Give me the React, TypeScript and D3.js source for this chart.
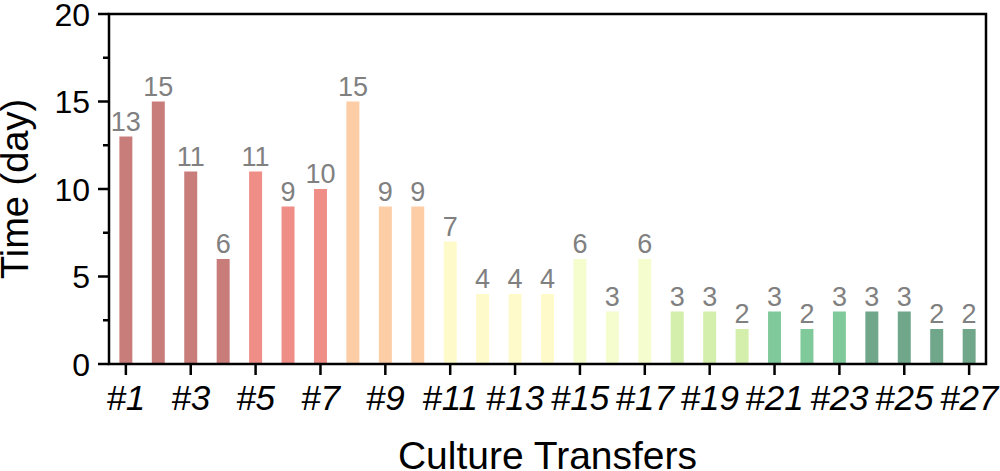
import { useRef, useEffect } from "react"
import * as d3 from "d3"

const transfers = d3.range(1, 28).map((n) => `#${n}`)
const days = [13, 15, 11, 6, 11, 9, 10, 15, 9, 9, 7, 4, 4, 4, 6, 3, 6, 3, 3, 2, 3, 2, 3, 3, 3, 2, 2]
const colorGroups = [
  "#c97d7b", "#c97d7b", "#c97d7b", "#c97d7b",
  "#ef8e86", "#ef8e86", "#ef8e86",
  "#fdcda5", "#fdcda5", "#fdcda5",
  "#fffac9", "#fffac9", "#fffac9", "#fffac9",
  "#f5fcce", "#f5fcce", "#f5fcce",
  "#d4eeab", "#d4eeab", "#d4eeab",
  "#80c99b", "#80c99b", "#80c99b",
  "#70a68a", "#70a68a", "#70a68a", "#70a68a",
]
const yTicks = [0, 5, 10, 15, 20]
const yMinor = [2.5, 7.5, 12.5, 17.5]

export default function App() {
  const svgRef = useRef<SVGSVGElement>(null)

  function drawChart() {
    const width = 1000
    const height = 471
    const left = 109
    const right = 986
    const top = 14
    const bottom = 364
    const font = "'Liberation Sans', Arial, sans-serif"

    const svg = d3.select(svgRef.current).attr("width", width).attr("height", height)
    svg.selectAll("*").remove()

    const x = d3.scaleBand().domain(transfers).range([left, right]).paddingInner(0.6).paddingOuter(0.32)
    const y = d3.scaleLinear().domain([0, 20]).range([bottom, top])

    // Bars
    svg
      .append("g")
      .selectAll("rect")
      .data(days)
      .enter()
      .append("rect")
      .attr("x", (d, i) => x(transfers[i])!)
      .attr("y", (d) => y(d))
      .attr("width", x.bandwidth())
      .attr("height", (d) => bottom - y(d))
      .attr("fill", (d, i) => colorGroups[i])

    // Value labels
    svg
      .append("g")
      .selectAll("text")
      .data(days)
      .enter()
      .append("text")
      .text((d) => d)
      .attr("x", (d, i) => x(transfers[i])! + x.bandwidth() / 2)
      .attr("y", (d) => y(d) - 6)
      .attr("text-anchor", "middle")
      .attr("fill", "#808080")
      .style("font-size", "27px")
      .style("font-family", font)

    // Frame
    svg
      .append("rect")
      .attr("x", left)
      .attr("y", top)
      .attr("width", right - left)
      .attr("height", bottom - top)
      .attr("fill", "none")
      .attr("stroke", "#000")
      .attr("stroke-width", 2.5)

    // Left axis
    const leftAxis = svg.append("g")
    leftAxis
      .selectAll("line.major")
      .data(yTicks)
      .enter()
      .append("line")
      .attr("x1", left - 11)
      .attr("x2", left)
      .attr("y1", (d) => y(d))
      .attr("y2", (d) => y(d))
      .attr("stroke", "#000")
      .attr("stroke-width", 2.5)
    leftAxis
      .selectAll("line.minor")
      .data(yMinor)
      .enter()
      .append("line")
      .attr("x1", left - 6)
      .attr("x2", left)
      .attr("y1", (d) => y(d))
      .attr("y2", (d) => y(d))
      .attr("stroke", "#000")
      .attr("stroke-width", 2.5)
    leftAxis
      .selectAll("text")
      .data(yTicks)
      .enter()
      .append("text")
      .text((d) => d)
      .attr("x", left - 19)
      .attr("y", (d) => y(d))
      .attr("dy", "0.36em")
      .attr("text-anchor", "end")
      .style("font-size", "32px")
      .style("font-family", font)

    // Bottom axis (odd transfers only)
    const labelled = transfers.filter((d, i) => i % 2 === 0)
    const bottomAxis = svg.append("g")
    bottomAxis
      .selectAll("line")
      .data(labelled)
      .enter()
      .append("line")
      .attr("x1", (d) => x(d)! + x.bandwidth() / 2)
      .attr("x2", (d) => x(d)! + x.bandwidth() / 2)
      .attr("y1", bottom)
      .attr("y2", bottom + 11)
      .attr("stroke", "#000")
      .attr("stroke-width", 2.5)
    bottomAxis
      .selectAll("text")
      .data(labelled)
      .enter()
      .append("text")
      .text((d) => d)
      .attr("x", (d) => x(d)! + x.bandwidth() / 2)
      .attr("y", 410)
      .attr("text-anchor", "middle")
      .style("font-size", "35px")
      .style("font-style", "italic")
      .style("font-family", font)

    // Axis titles
    svg
      .append("text")
      .text("Culture Transfers")
      .attr("x", (left + right) / 2)
      .attr("y", 469)
      .attr("text-anchor", "middle")
      .style("font-size", "39px")
      .style("font-family", font)
    svg
      .append("text")
      .text("Time (day)")
      .attr("transform", `translate(28, ${(top + bottom) / 2}) rotate(-90)`)
      .attr("text-anchor", "middle")
      .style("font-size", "38px")
      .style("font-family", font)
  }

  useEffect(() => {
    drawChart()
  }, [svgRef])

  return (
    <div style={{ position: "absolute", left: 0, top: 0 }}>
      <svg ref={svgRef} style={{ display: "block" }}></svg>
    </div>
  )
}
